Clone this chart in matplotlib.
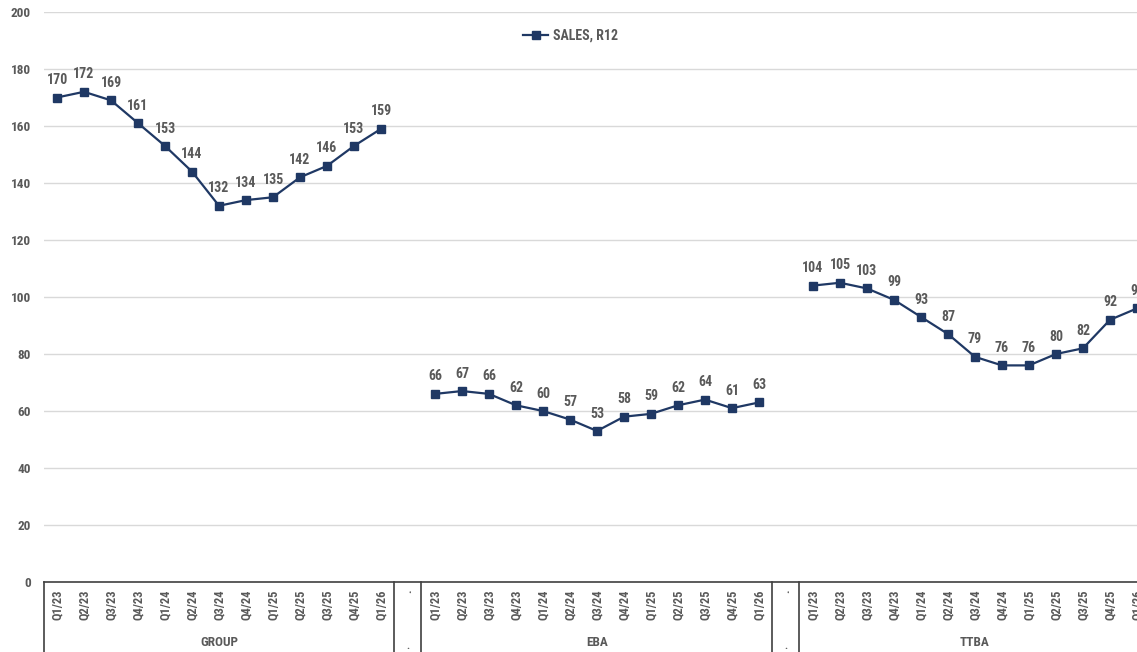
import matplotlib
matplotlib.use("Agg")
import matplotlib.pyplot as plt
from matplotlib import font_manager as fm
from matplotlib.font_manager import FontProperties
from matplotlib.transforms import blended_transform_factory

quarters = ["Q1/23", "Q2/23", "Q3/23", "Q4/23", "Q1/24", "Q2/24", "Q3/24",
            "Q4/24", "Q1/25", "Q2/25", "Q3/25", "Q4/25", "Q1/26"]
groups = ["GROUP", "EBA", "TTBA"]
group_values = [170, 172, 169, 161, 153, 144, 132, 134, 135, 142, 146, 153, 159]
eba_values = [66, 67, 66, 62, 60, 57, 53, 58, 59, 62, 64, 61, 63]
ttba_values = [104, 105, 103, 99, 93, 87, 79, 76, 76, 80, 82, 92, 96]
series_name = "SALES, R12"
y_ticks = [0, 20, 40, 60, 80, 100, 120, 140, 160, 180, 200]

# pick a condensed font if one is installed
cond = [f for f in fm.fontManager.ttflist
        if ("Narrow" in f.name or "Condensed" in f.name or "Narrow" in f.fname
            or "Condensed" in f.fname or str(f.stretch) in ("condensed", "semi-condensed", "extra-condensed"))
        and "Mono" not in f.name and "Serif" not in f.name and "Italic" not in f.fname
        and "Oblique" not in f.fname and str(f.style) == "normal"]
pref = ["Roboto Condensed", "Liberation Sans Narrow", "Open Sans Condensed", "Noto Sans", "DejaVu Sans", "Roboto", "Open Sans"]


def rank(f):
    try:
        i = next(k for k, p in enumerate(pref) if f.name.startswith(p))
    except StopIteration:
        i = len(pref)
    w = f.weight if isinstance(f.weight, int) else {"bold": 700, "normal": 400, "medium": 500}.get(str(f.weight), 400)
    return (i, abs(w - 600))


cond.sort(key=rank)
if cond:
    FONT_FILE = cond[0].fname
    def fp(size):
        return FontProperties(fname=FONT_FILE, size=size)
else:
    def fp(size):
        return FontProperties(family="DejaVu Sans", size=size * 0.85)
LBL = 10

NAVY = "#1f3864"
GRAY = "#595959"

fig = plt.figure(figsize=(11.37, 6.52), dpi=100)
W, H = 1137, 652
left_px, right_px, top_px, bot_px = 43.5, 1150.5, 12, 582
ax = fig.add_axes([left_px / W, (H - bot_px) / H, (right_px - left_px) / W, (bot_px - top_px) / H])

all_values = [group_values, eba_values, ttba_values]
labels = []
pos = 0
first = True
for gi, vals in enumerate(all_values):
    xs = list(range(pos, pos + len(vals)))
    ax.plot(xs, vals, color=NAVY, lw=1.6, marker="s", ms=6.3, mec=NAVY, mfc=NAVY,
            label=series_name if first else None, zorder=3)
    first = False
    for x, v in zip(xs, vals):
        ax.annotate(f"{v:.0f}", (x, v), xytext=(0, 7.5), textcoords="offset points",
                    ha="center", va="bottom", color=GRAY, fontproperties=fp(LBL))
    labels += quarters
    pos += len(vals)
    if gi < len(all_values) - 1:
        labels.append(".")
        pos += 1

n = len(labels)
ax.set_xlim(-0.5, n - 0.5)
ax.set_ylim(0, 200)
ax.set_yticks(y_ticks)
ax.set_yticklabels([str(t) for t in y_ticks], color=GRAY, fontproperties=fp(9.5))
ax.set_xticks(range(n))
ax.set_xticklabels(labels, rotation=90, color=GRAY, va="top", fontproperties=fp(9))
ax.tick_params(axis="both", length=0)
ax.tick_params(axis="y", pad=9)
ax.tick_params(axis="x", pad=5.5)
ax.grid(axis="y", color="#d9d9d9", lw=1)
ax.set_axisbelow(True)
for s in ["left", "right", "top"]:
    ax.spines[s].set_visible(False)
ax.spines["bottom"].set_color("#404040")
ax.spines["bottom"].set_linewidth(1.2)

trans = blended_transform_factory(ax.transData, ax.transAxes)
start = 0
boundaries = [-0.5]
for gi, g in enumerate(groups):
    end = start + len(quarters) - 1
    ax.text((start + end) / 2, -0.107, g, transform=trans, ha="center", va="center",
            color=GRAY, fontproperties=fp(9.5))
    boundaries.append(end + 0.5)
    if gi < len(groups) - 1:
        ax.text(end + 1, -0.112, ".", transform=trans, ha="center", va="center",
                color=GRAY, fontproperties=fp(8))
        boundaries.append(end + 1.5)
    start = end + 2
for b in boundaries:
    ax.plot([b, b], [0, -0.25], transform=trans, color="#404040", lw=1.2, clip_on=False)

ax.legend(loc="center", bbox_to_anchor=(0.476, 0.958), frameon=False,
          handlelength=1.8, handletextpad=0.3, labelcolor=GRAY, prop=fp(10))

fig.savefig("out.png", dpi=100)
